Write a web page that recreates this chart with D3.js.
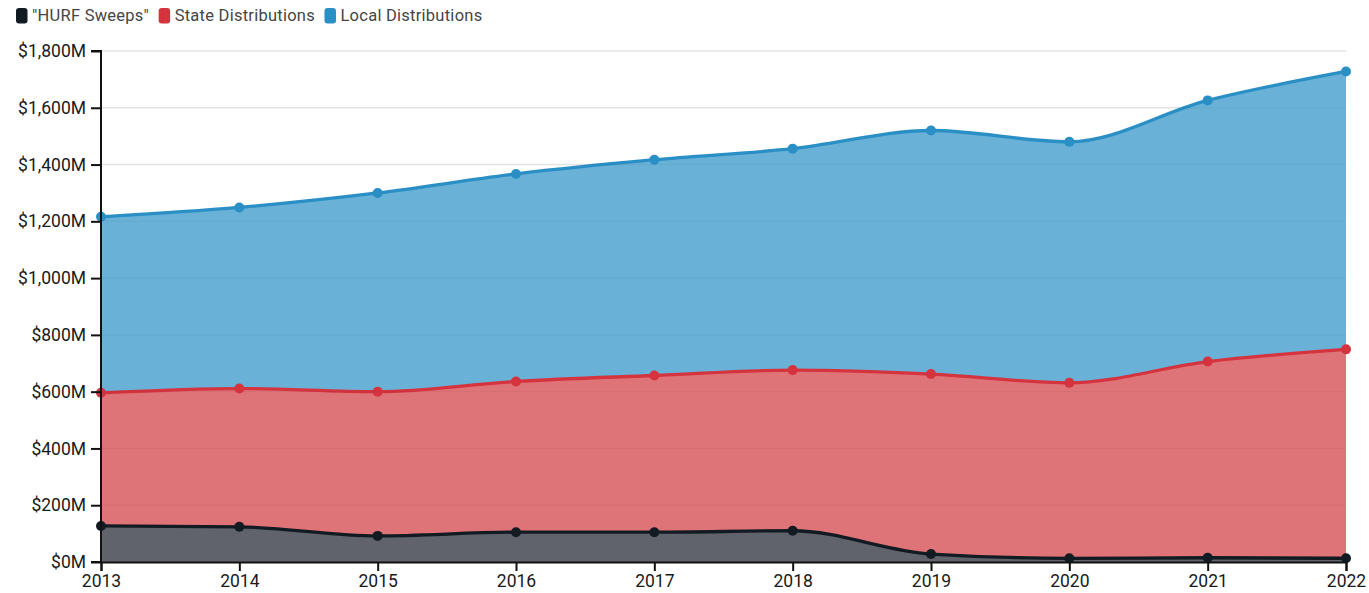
<!DOCTYPE html>
<html><head><meta charset="utf-8">
<script src="https://cdn.jsdelivr.net/npm/d3@7"></script>
<style>
body{margin:0;background:#fff;font-family:Roboto,"Noto Sans",sans-serif;}
svg{display:block;}
</style></head>
<body><svg id="chart" width="1369" height="593"></svg>
<script>
const years = [2013,2014,2015,2016,2017,2018,2019,2020,2021,2022];
const seriesNames = ['"HURF Sweeps"','State Distributions','Local Distributions'];
// values in $M (stacked components)
const hurfSweeps = [127,124,92,105,105,110,28,13,15,13];
const stateDistributions = [469,487,508,531,552,566,634,618,691,736];
const localDistributions = [620,638,700,731,760,780,858,849,920,979];
const yTicks = [0,200,400,600,800,1000,1200,1400,1600,1800];
const lineColors = ["#121a22","#d5343f","#2a8fc5"];
const fillColors = ["#595d65","#dd6e73","#63aed5"];

const svg = d3.select("#chart");
const m = {left:101, right:23, top:51, bottom:31};
const W = 1369, H = 593;
const x = d3.scaleLinear().domain([2013,2022]).range([m.left, W-m.right]);
const y = d3.scaleLinear().domain([0,1800]).range([H-m.bottom, m.top]);

const rows = years.map((yr,i)=>({year:yr, a:hurfSweeps[i], b:stateDistributions[i], c:localDistributions[i]}));
const stacked = d3.stack().keys(["a","b","c"])(rows);

// gridlines
svg.append("g").selectAll("line").data(yTicks.slice(1)).join("line")
  .attr("x1", m.left).attr("x2", W-m.right)
  .attr("y1", d=>y(d)).attr("y2", d=>y(d))
  .attr("stroke","#ececec").attr("stroke-width",1.5);

const curve = d3.curveMonotoneX;
const area = d3.area().x(d=>x(d.data.year)).y0(d=>y(d[0])).y1(d=>y(d[1])).curve(curve);
const line = d3.line().x(d=>x(d.data.year)).y(d=>y(d[1])).curve(curve);

const g = svg.append("g");
stacked.forEach((s,i)=>{
  g.append("path").datum(s).attr("d",area).attr("fill",fillColors[i]).attr("fill-opacity",0.96);
});
// faint gridlines over areas
svg.append("g").selectAll("line").data(yTicks.slice(1)).join("line")
  .attr("x1", m.left).attr("x2", W-m.right)
  .attr("y1", d=>y(d)).attr("y2", d=>y(d))
  .attr("stroke","rgba(0,0,0,0.035)").attr("stroke-width",1.5);

stacked.forEach((s,i)=>{
  g.append("path").datum(s).attr("d",line).attr("fill","none")
   .attr("stroke",lineColors[i]).attr("stroke-width",3.3);
});
stacked.forEach((s,i)=>{
  g.append("g").selectAll("circle").data(s).join("circle")
   .attr("cx",d=>x(d.data.year)).attr("cy",d=>y(d[1])).attr("r",5)
   .attr("fill",lineColors[i]);
});

// axes
const fmt = d=>"$"+d3.format(",")(d)+"M";
const yAxis = svg.append("g").attr("transform",`translate(${m.left},0)`)
  .call(d3.axisLeft(y).tickValues(yTicks).tickFormat(fmt).tickSize(10).tickPadding(5));
const xAxis = svg.append("g").attr("transform",`translate(0,${H-m.bottom})`)
  .call(d3.axisBottom(x).tickValues(years).tickFormat(d3.format("d")).tickSize(9).tickPadding(4));
[yAxis,xAxis].forEach(a=>{
  a.select(".domain").attr("stroke","#111").attr("stroke-width",2);
  a.selectAll(".tick line").attr("stroke","#111").attr("stroke-width",2);
  a.selectAll("text").attr("fill","#1a1a1a").style("font-family","Roboto, sans-serif").style("font-size","17.5px");
});
yAxis.select(".domain").attr("d",`M-10,${y(1800)}H0V${y(0)}H-10`);

// legend
const legend = svg.append("g").attr("transform","translate(16,0)");
let lx = 0;
seriesNames.forEach((n,i)=>{
  const it = legend.append("g").attr("transform",`translate(${lx},0)`);
  it.append("rect").attr("x",0).attr("y",8).attr("width",11.5).attr("height",15.5).attr("rx",3).attr("fill",lineColors[i]);
  const t = it.append("text").attr("x",16).attr("y",20.5).text(n)
    .attr("fill","#454545").style("font-family","Roboto, sans-serif").style("font-size","16.5px").style("letter-spacing","0.25px");
  lx += 16 + t.node().getComputedTextLength() + 9.5;
});
</script></body></html>
